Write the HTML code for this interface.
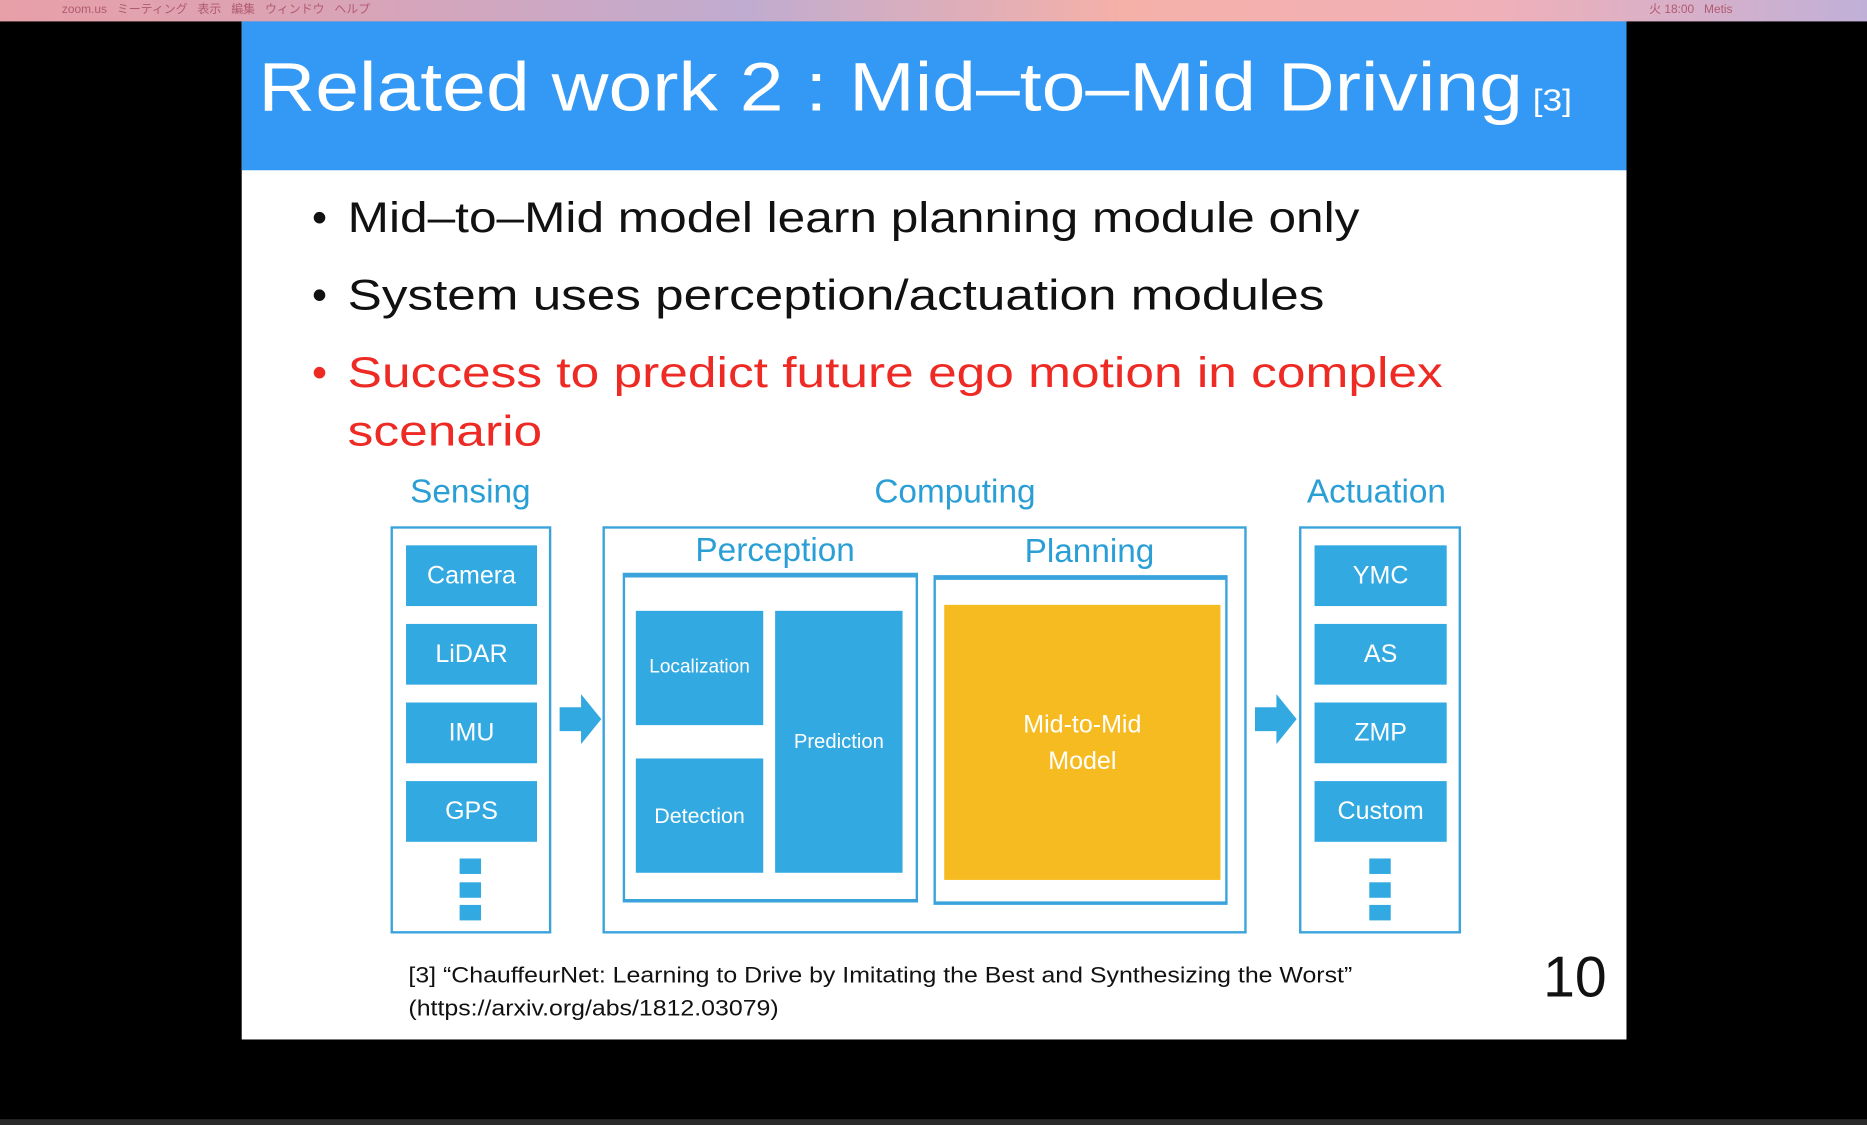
<!DOCTYPE html>
<html><head><meta charset="utf-8"><style>
html,body{margin:0;padding:0;background:#000;width:1867px;height:1125px;overflow:hidden}
#w{position:absolute;left:0;top:0;width:1568px;height:945px;transform:scale(1.19069);transform-origin:0 0;font-family:"Liberation Sans","DejaVu Sans",sans-serif}
.a{position:absolute}
.bx{position:absolute;background:#33a9e1;color:#fff;display:flex;align-items:center;justify-content:center;font-size:21px}
.fr{position:absolute;border:2px solid #3aa3dc;box-sizing:border-box}
.lb{position:absolute;color:#2a9fd6;font-size:28px;text-align:center;width:300px}
.dot{position:absolute;background:#33a9e1;width:18px;height:13px}
.bl{position:absolute;font-size:36px;color:#111;white-space:nowrap;transform-origin:0 0}
</style></head><body><div id="w">
<div class="a" style="left:0;top:0;width:1568px;height:18px;background:linear-gradient(90deg,#e8a0a8,#d8a4b8 20%,#c0acd0 40%,#f5b0a8 60%,#f0b0b8 80%,#c0b0d8);font-size:10px;color:#b05a70;line-height:18px"><span style="margin-left:52px">zoom.us &nbsp; ミーティング &nbsp; 表示 &nbsp; 編集 &nbsp; ウィンドウ &nbsp; ヘルプ</span><span style="position:absolute;left:1385px">火 18:00 &nbsp; Metis</span></div>
<div class="a" style="left:203px;top:18px;width:1163px;height:855px;background:#fff"></div>
<div class="a" style="left:203px;top:18px;width:1163px;height:125px;background:#3399f5"></div>
<div class="a" style="left:217px;top:40px;color:#fff;font-size:58px;white-space:nowrap;transform:scaleX(1.14);transform-origin:0 0">Related work 2 : Mid–to–Mid Driving<span style="font-size:26px"> [3]</span></div>
<div class="bl" style="left:262px;top:162px">•</div><div class="bl" style="left:292px;top:162px;transform:scaleX(1.157)">Mid–to–Mid model learn planning module only</div>
<div class="bl" style="left:262px;top:227px">•</div><div class="bl" style="left:292px;top:227px;transform:scaleX(1.195)">System uses perception/actuation modules</div>
<div class="bl" style="left:262px;top:292px;color:#ee2a24">•</div><div class="bl" style="left:292px;top:292px;color:#ee2a24;transform:scaleX(1.2)">Success to predict future ego motion in complex</div>
<div class="bl" style="left:292px;top:341px;color:#ee2a24;transform:scaleX(1.2)">scenario</div>
<div class="lb" style="left:245px;top:397px">Sensing</div>
<div class="lb" style="left:652px;top:397px">Computing</div>
<div class="lb" style="left:1006px;top:397px">Actuation</div>
<div class="fr" style="left:328px;top:442px;width:135px;height:342px"></div>
<div class="bx" style="left:341px;top:458px;width:110px;height:51px">Camera</div>
<div class="bx" style="left:341px;top:524px;width:110px;height:51px">LiDAR</div>
<div class="bx" style="left:341px;top:590px;width:110px;height:51px">IMU</div>
<div class="bx" style="left:341px;top:656px;width:110px;height:51px">GPS</div>
<div class="dot" style="left:386px;top:721px"></div><div class="dot" style="left:386px;top:741px"></div><div class="dot" style="left:386px;top:760px"></div>
<svg class="a" style="left:468px;top:580px" width="40" height="50"><polygon points="2,14 20,14 20,3 37,24 20,45 20,34 2,34" fill="#33a9e1"/></svg>
<svg class="a" style="left:1052px;top:580px" width="40" height="50"><polygon points="2,14 20,14 20,3 37,24 20,45 20,34 2,34" fill="#33a9e1"/></svg>
<div class="fr" style="left:506px;top:442px;width:541px;height:342px"></div>
<div class="lb" style="left:501px;top:446px">Perception</div>
<div class="lb" style="left:765px;top:447px">Planning</div>
<div class="fr" style="left:523px;top:481px;width:248px;height:277px;border-top-width:4px;border-bottom-width:3px"></div>
<div class="bx" style="left:534px;top:513px;width:107px;height:96px;font-size:16px">Localization</div>
<div class="bx" style="left:534px;top:637px;width:107px;height:96px;font-size:18px">Detection</div>
<div class="bx" style="left:651px;top:513px;width:107px;height:220px;font-size:17px">Prediction</div>
<div class="fr" style="left:784px;top:483px;width:247px;height:277px;border-top-width:4px;border-bottom-width:3px"></div>
<div class="bx" style="left:793px;top:508px;width:232px;height:231px;background:#f7bb22;font-size:21px;text-align:center;line-height:31px">Mid-to-Mid<br>Model</div>
<div class="fr" style="left:1091px;top:442px;width:136px;height:342px"></div>
<div class="bx" style="left:1104px;top:458px;width:111px;height:51px">YMC</div>
<div class="bx" style="left:1104px;top:524px;width:111px;height:51px">AS</div>
<div class="bx" style="left:1104px;top:590px;width:111px;height:51px">ZMP</div>
<div class="bx" style="left:1104px;top:656px;width:111px;height:51px">Custom</div>
<div class="dot" style="left:1150px;top:721px"></div><div class="dot" style="left:1150px;top:741px"></div><div class="dot" style="left:1150px;top:760px"></div>
<div class="a" style="left:343px;top:806px;font-size:19px;line-height:28px;color:#111;white-space:nowrap;transform:scaleX(1.1);transform-origin:0 0">[3] “ChauffeurNet: Learning to Drive by Imitating the Best and Synthesizing the Worst”<br>(https://arxiv.org/abs/1812.03079)</div>
<div class="a" style="left:1296px;top:794px;font-size:48px;color:#111">10</div>
<div class="a" style="left:0;top:940px;width:1568px;height:5px;background:#2a2a2a"></div>
</div></body></html>
